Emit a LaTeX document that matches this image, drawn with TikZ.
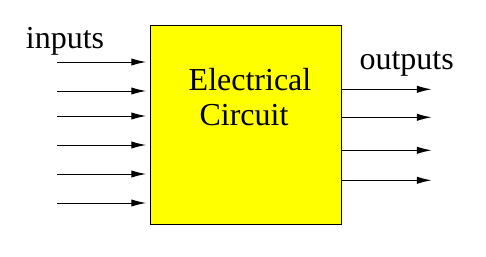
\documentclass[tikz,border=0pt]{standalone}
\usepackage{fontspec}
\setmainfont{Liberation Serif}
\usetikzlibrary{arrows.meta}
\definecolor{boxyellow}{RGB}{255,255,0}
\begin{document}
\begin{tikzpicture}[x=0.75pt,y=-0.75pt,
  sig/.style={draw=black,line width=0.75pt,-{Latex[length=11pt,width=5.5pt]}},
  lbl/.style={font=\fontsize{24pt}{25.7pt}\selectfont\rmfamily,inner sep=0pt}]
\useasboundingbox (0,0) rectangle (486,257);
\node[draw=black,line width=0.75pt,fill=boxyellow,minimum width=191.5*0.75pt,minimum height=199.5*0.75pt,inner sep=0pt,anchor=north west] (box) at (149.5,24.5) {};
\node[lbl,anchor=base] (txt1) at (250,90.7) {Electrical};
\node[lbl,anchor=base] (txt2) at (244,125) {Circuit};
\node[lbl,anchor=base] (in) at (65,48) {inputs};
\node[lbl,anchor=base] (out) at (406.7,69) {outputs};
\foreach \i/\y in {1/62,2/91,3/116,4/145,5/174,6/203}{
  \coordinate (is\i) at (57,\y);
  \coordinate (ie\i) at (146,\y);
  \draw[sig] (is\i) -- (ie\i);
}
\foreach \i/\y in {1/89.3,2/117.3,3/150.3,4/180.3}{
  \coordinate (os\i) at (342,\y);
  \coordinate (oe\i) at (431.5,\y);
  \draw[sig] (os\i) -- (oe\i);
}
\end{tikzpicture}
\end{document}
